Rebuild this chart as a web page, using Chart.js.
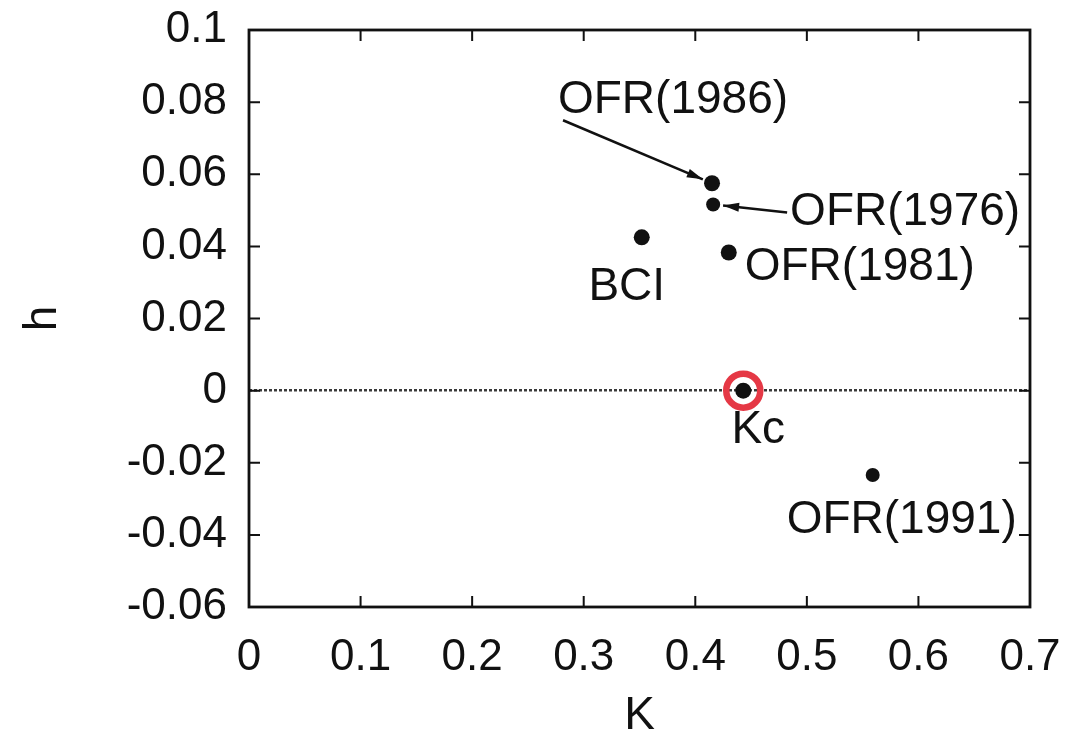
<!DOCTYPE html>
<html>
<head>
<meta charset="utf-8">
<script src="https://cdn.jsdelivr.net/npm/chart.js@4.4.1/dist/chart.umd.min.js"></script>
<style>
  html, body { margin: 0; padding: 0; background: #fff; }
  #wrap { width: 1076px; height: 744px; position: relative; }
</style>
</head>
<body>
<div id="wrap"><canvas id="chart"></canvas></div>
<script>
// Data
const pointNames = ['OFR(1986)', 'OFR(1976)', 'OFR(1981)', 'BCI', 'Kc', 'OFR(1991)'];
const kValues = [0.415, 0.416, 0.430, 0.352, 0.443, 0.559];
const hValues = [0.0575, 0.0516, 0.0383, 0.0425, 0.0, -0.0234];
const criticalIndex = 4; // Kc gets the red ring

// Axis ranges / ticks
const kTicks = [0, 0.1, 0.2, 0.3, 0.4, 0.5, 0.6, 0.7];
const hTicks = [-0.06, -0.04, -0.02, 0, 0.02, 0.04, 0.06, 0.08, 0.1];

// Label placement (pixel offsets from each point) and arrows
const labelOffsets = [[-39, -83], [192, 8], [131, 15], [-15, 50], [15, 40], [29, 45]];
const arrowFrom = { 0: [-149, -63], 1: [74, 8] };

const FONT = "'Liberation Sans', Arial, Helvetica, sans-serif";
const INK = '#111';

const points = kValues.map((k, i) => ({ x: k, y: hValues[i] }));

// drop the extra room Chart.js keeps for overhanging tick labels
function noOverhang(scale) {
    scale.paddingTop = 0;
    scale.paddingBottom = 0;
    scale.paddingLeft = 0;
    scale.paddingRight = 0;
}

const framePlugin = {
    id: 'framePlugin',
    afterDatasetsDraw(chart) {
        const { ctx, chartArea: a, scales } = chart;
        const xs = scales.x, ys = scales.y;
        ctx.save();

        // Frame
        ctx.strokeStyle = INK;
        ctx.lineWidth = 2.8;
        ctx.strokeRect(a.left, a.top, a.right - a.left, a.bottom - a.top);

        // Inward tick marks on all four sides
        ctx.lineWidth = 2;
        const len = 11;
        kTicks.slice(1, -1).forEach(v => {
            const px = xs.getPixelForValue(v);
            ctx.beginPath();
            ctx.moveTo(px, a.bottom); ctx.lineTo(px, a.bottom - len);
            ctx.moveTo(px, a.top); ctx.lineTo(px, a.top + len);
            ctx.stroke();
        });
        hTicks.slice(1, -1).forEach(v => {
            const py = ys.getPixelForValue(v);
            ctx.beginPath();
            ctx.moveTo(a.left, py); ctx.lineTo(a.left + len, py);
            ctx.moveTo(a.right, py); ctx.lineTo(a.right - len, py);
            ctx.stroke();
        });

        // Point labels
        ctx.fillStyle = INK;
        ctx.font = '46px ' + FONT;
        ctx.textAlign = 'center';
        ctx.textBaseline = 'middle';
        points.forEach((p, i) => {
            const px = xs.getPixelForValue(p.x);
            const py = ys.getPixelForValue(p.y);
            ctx.fillText(pointNames[i], px + labelOffsets[i][0], py + labelOffsets[i][1]);
        });

        // Arrows from labels to points
        ctx.strokeStyle = INK;
        ctx.lineWidth = 2.5;
        Object.keys(arrowFrom).forEach(key => {
            const i = Number(key);
            const px = xs.getPixelForValue(points[i].x);
            const py = ys.getPixelForValue(points[i].y);
            const sx = px + arrowFrom[i][0], sy = py + arrowFrom[i][1];
            const ang = Math.atan2(py - sy, px - sx);
            const tx = px - Math.cos(ang) * 10, ty = py - Math.sin(ang) * 10;
            ctx.beginPath();
            ctx.moveTo(sx, sy); ctx.lineTo(tx, ty);
            ctx.stroke();
            const hl = 16, hw = 4.5;
            ctx.beginPath();
            ctx.moveTo(tx, ty);
            ctx.lineTo(tx - Math.cos(ang) * hl - Math.sin(ang) * hw, ty - Math.sin(ang) * hl + Math.cos(ang) * hw);
            ctx.lineTo(tx - Math.cos(ang) * hl + Math.sin(ang) * hw, ty - Math.sin(ang) * hl - Math.cos(ang) * hw);
            ctx.closePath();
            ctx.fill();
        });
        ctx.restore();
    }
};

const fmt = v => String(Number(Number(v).toFixed(2)));

new Chart(document.getElementById('chart'), {
    type: 'scatter',
    data: {
        datasets: [
            {
                label: 'ring',
                data: [points[criticalIndex]],
                pointRadius: 17,
                pointBorderWidth: 6.5,
                pointBorderColor: '#e53845',
                pointBackgroundColor: 'rgba(0,0,0,0)'
            },
            {
                label: 'points',
                data: points,
                pointRadius: [8, 7, 8, 8, 8, 7],
                pointBackgroundColor: INK,
                pointBorderColor: INK,
                pointBorderWidth: 0
            }
        ]
    },
    options: {
        responsive: true,
        maintainAspectRatio: false,
        animation: false,
        events: [],
        layout: { padding: { left: 16, right: 46, top: 30, bottom: 0 } },
        plugins: { legend: { display: false }, tooltip: { enabled: false } },
        scales: {
            x: {
                type: 'linear',
                min: 0,
                max: 0.7,
                afterBuildTicks: scale => { scale.ticks = kTicks.map(v => ({ value: v })); },
                afterFit: scale => { scale.height = 137; noOverhang(scale); },
                grid: { display: false, drawTicks: false },
                border: { display: false },
                ticks: { color: INK, font: { family: FONT, size: 44 }, padding: 24, callback: fmt, maxRotation: 0 },
                title: { display: true, text: 'K', color: INK, font: { family: FONT, size: 46 }, padding: 0 }
            },
            y: {
                type: 'linear',
                min: -0.06,
                max: 0.1,
                afterBuildTicks: scale => { scale.ticks = hTicks.map(v => ({ value: v })); },
                afterFit: scale => { scale.width = 233; noOverhang(scale); },
                grid: {
                    drawTicks: false,
                    lineWidth: 2.5,
                    color: c => (c.tick && Math.abs(c.tick.value) < 1e-9) ? '#3a3a3a' : 'rgba(0,0,0,0)'
                },
                border: { display: false, dash: [3, 2] },
                ticks: { color: INK, font: { family: FONT, size: 44 }, padding: 22, callback: fmt },
                title: { display: true, text: 'h', color: INK, font: { family: FONT, size: 46 }, padding: 0 }
            }
        }
    },
    plugins: [framePlugin]
});
</script>
</body>
</html>
